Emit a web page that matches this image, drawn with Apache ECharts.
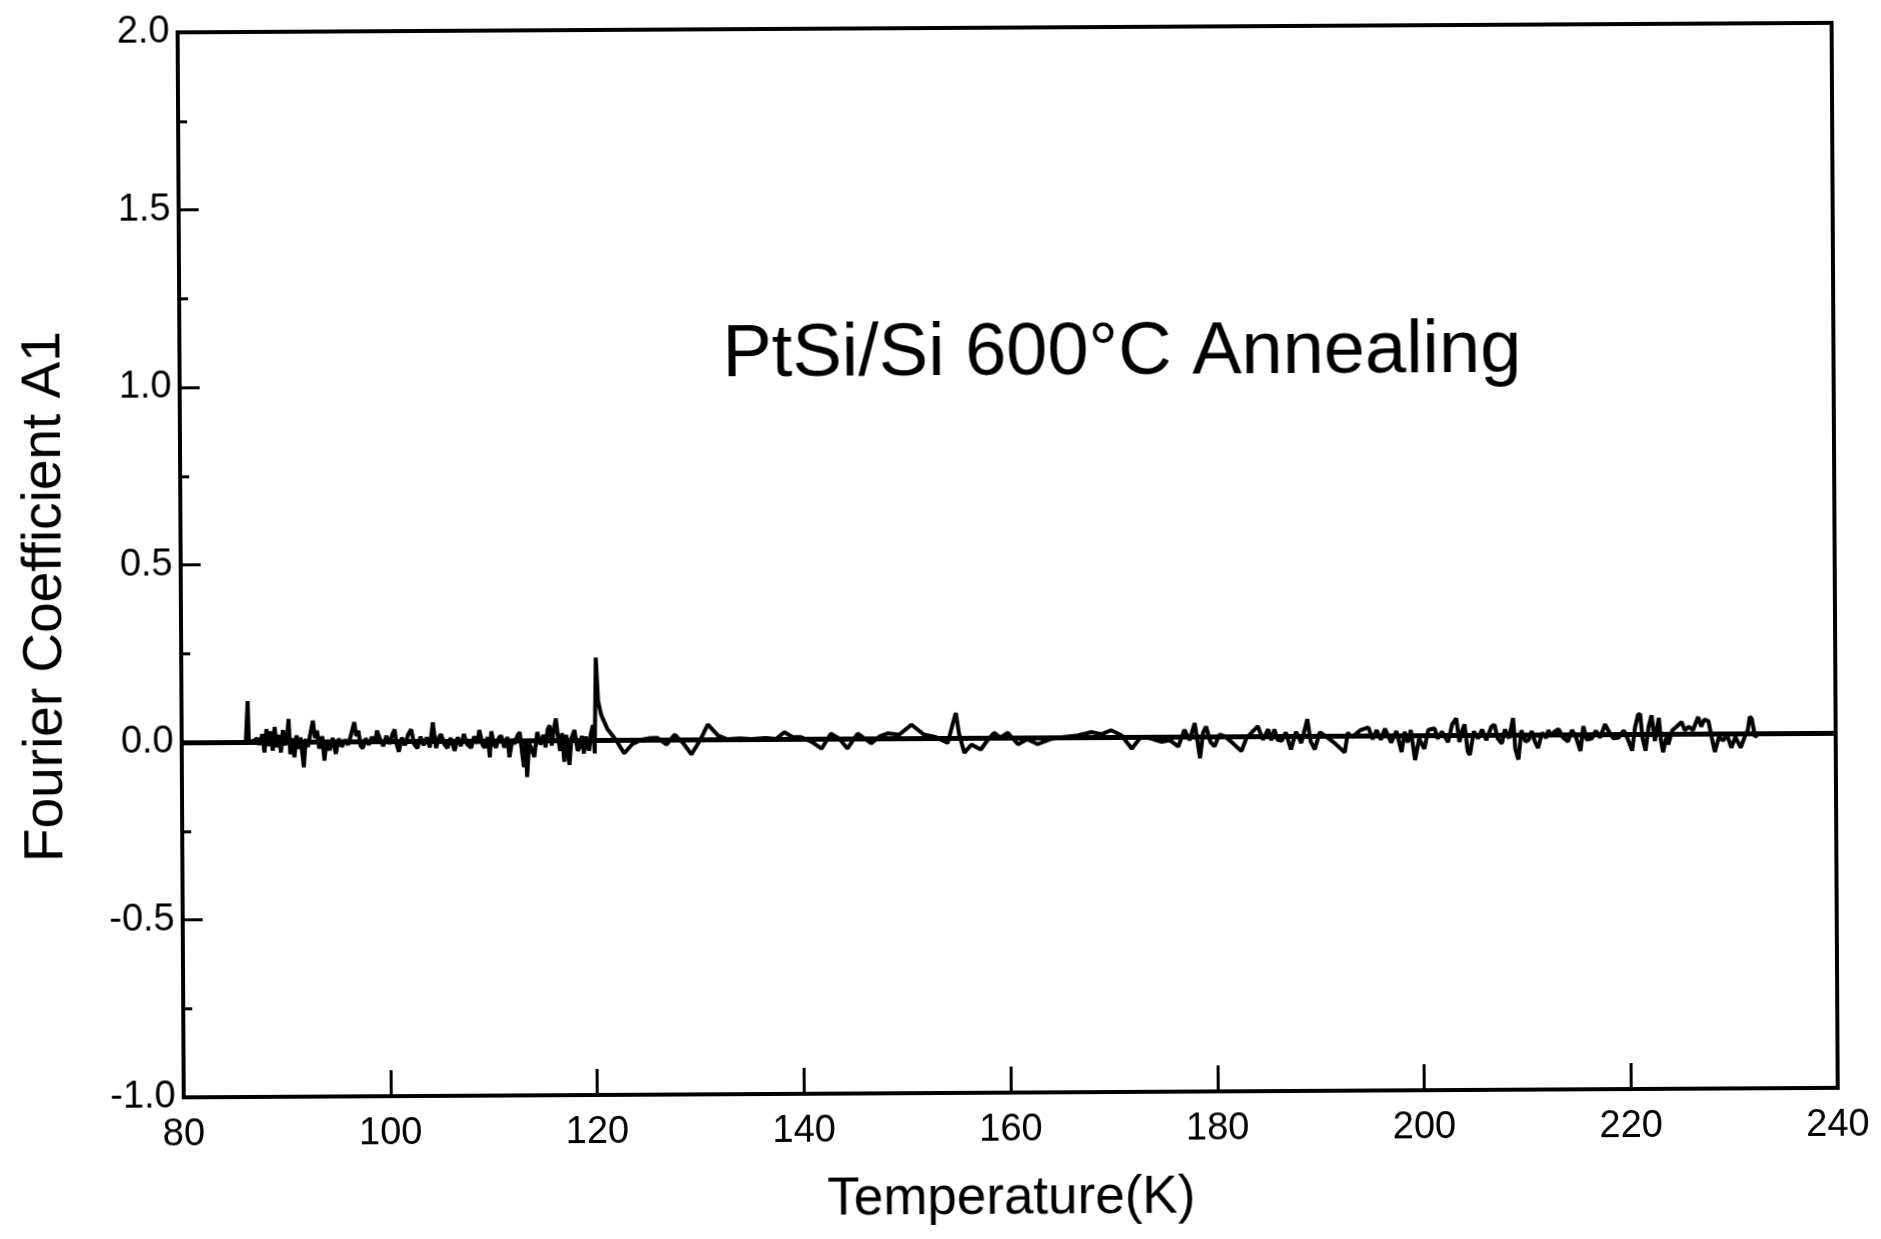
<!DOCTYPE html>
<html>
<head>
<meta charset="utf-8">
<script src="https://cdn.jsdelivr.net/npm/echarts@6/dist/echarts.min.js"></script>
<style>
html,body{margin:0;padding:0;background:#fff;overflow:hidden;}
#chart{width:1881px;height:1239px;transform:rotate(-0.33deg);transform-origin:50% 50%;}
</style>
</head>
<body>
<div id="chart"></div>
<script>
const chartTitle = 'PtSi/Si 600°C Annealing';
const xAxisName = 'Temperature(K)';
const yAxisName = 'Fourier Coefficient A1';

const temperature = [
  86.2, 86.4, 86.5, 87.0, 87.3, 87.5, 87.8, 88.0, 88.2, 88.4,
  88.6, 88.8, 89.0, 89.2, 89.4, 89.6, 89.8, 90.0, 90.2, 90.35,
  90.5, 90.7, 90.9, 91.1, 91.3, 91.5, 91.8, 92.0, 92.2, 92.5,
  92.7, 92.9, 93.1, 93.3, 93.6, 93.8, 94.0, 94.3, 94.6, 94.9,
  95.2, 95.5, 95.8, 96.1, 96.4, 96.7, 96.9, 97.1, 97.3, 97.5,
  97.8, 98.1, 98.4, 98.7, 98.9, 99.2, 99.5, 99.8, 100.1, 100.4,
  100.6, 100.8, 101.0, 101.3, 101.6, 101.9, 102.2, 102.5, 102.8, 103.1,
  103.4, 103.7, 104.0, 104.3, 104.6, 104.9, 105.1, 105.4, 105.7, 106.0,
  106.4, 106.7, 107.0, 107.3, 107.6, 108.0, 108.3, 108.6, 108.8, 109.1,
  109.3, 109.6, 109.8, 109.95, 110.2, 110.4, 110.7, 110.9, 111.2, 111.5,
  111.7, 112.0, 112.2, 112.5, 112.7, 112.9, 113.1, 113.25, 113.4, 113.6,
  113.8, 114.1, 114.4, 114.7, 115.0, 115.2, 115.4, 115.6, 115.8, 116.0,
  116.2, 116.4, 116.6, 116.8, 117.0, 117.2, 117.5, 117.7, 118.0, 118.3,
  118.5, 118.7, 118.9, 119.1, 119.4, 119.6, 119.8, 119.95, 120.1, 120.3,
  120.6, 121.2, 122.0, 122.8, 123.6, 124.5, 125.3, 126.0, 126.9, 127.7,
  128.5, 129.3, 130.1, 130.9, 131.9, 132.8, 134.0, 135.1, 136.5, 137.5,
  138.3, 139.1, 139.9, 140.9, 141.9, 142.8, 143.6, 144.4, 145.4, 146.7,
  147.5, 148.3, 149.4, 150.6, 151.8, 153.0, 154.1, 154.6, 154.9, 155.2,
  155.7, 156.4, 157.3, 158.0, 158.6, 159.2, 159.9, 160.9, 161.8, 162.8,
  164.0, 165.1, 166.5, 168.0, 169.0, 169.9, 170.9, 171.9, 172.8, 173.8,
  174.8, 175.6, 176.4, 177.0, 177.5, 178.0, 178.5, 178.8, 179.1, 179.5,
  179.9, 180.4, 180.9, 181.7, 182.5, 183.0, 183.5, 184.1, 184.6, 185.1,
  185.4, 185.7, 186.0, 186.4, 186.8, 187.3, 187.8, 188.3, 188.9, 189.2,
  189.6, 190.1, 190.6, 191.5, 192.5, 192.8, 193.2, 194.0, 194.8, 195.2,
  195.6, 196.0, 196.4, 197.0, 197.5, 198.0, 198.3, 198.6, 198.9, 199.3,
  199.7, 200.2, 200.6, 201.2, 201.5, 201.9, 202.5, 202.9, 203.3, 203.6,
  203.9, 204.1, 204.4, 204.6, 205.0, 205.4, 205.8, 206.2, 206.7, 207.0,
  207.3, 207.7, 208.0, 208.4, 208.8, 209.0, 209.3, 209.6, 210.0, 210.3,
  210.6, 210.9, 211.2, 211.6, 212.0, 212.2, 212.5, 212.8, 213.2, 213.6,
  214.1, 214.5, 214.9, 215.3, 215.6, 215.9, 216.4, 216.8, 217.2, 217.7,
  218.1, 218.5, 219.0, 219.5, 219.9, 220.3, 220.6, 220.9, 221.1, 221.3,
  221.6, 221.9, 222.2, 222.5, 222.9, 223.1, 223.3, 223.6, 223.8, 224.2,
  224.6, 225.1, 225.4, 225.8, 226.2, 226.7, 227.0, 227.3, 227.7, 228.0,
  228.3, 228.7, 229.1, 229.5, 229.9, 230.3, 230.8, 231.2, 231.5, 231.7,
  231.9, 232.2, 232.6
];

const coefficientA1 = [
  0.000, 0.115, 0.000, 0.004, 0.010, -0.008, 0.022, -0.030, 0.036, -0.012,
  0.030, -0.025, 0.042, -0.015, 0.020, -0.030, 0.033, -0.010, 0.015, 0.064,
  -0.035, 0.010, -0.044, 0.018, -0.020, 0.012, -0.072, 0.008, -0.015, 0.030,
  0.059, 0.010, 0.031, -0.020, 0.015, -0.054, 0.005, -0.025, 0.010, -0.035,
  0.008, -0.015, 0.005, -0.010, 0.020, 0.054, 0.015, 0.030, -0.012, -0.020,
  0.008, -0.010, 0.012, -0.006, 0.030, 0.005, -0.014, 0.015, -0.008, 0.020,
  0.033, -0.010, -0.030, 0.010, -0.012, 0.018, 0.033, -0.010, -0.020, 0.012,
  -0.012, 0.010, -0.018, 0.052, -0.020, 0.010, 0.019, -0.010, -0.020, 0.008,
  -0.028, 0.010, -0.015, 0.019, -0.010, -0.020, 0.012, -0.008, 0.030, -0.012,
  -0.020, 0.010, -0.047, 0.026, -0.010, -0.020, 0.008, 0.014, -0.020, 0.010,
  -0.047, 0.005, -0.010, 0.015, 0.023, -0.030, -0.075, 0.005, -0.103, -0.010,
  -0.020, -0.047, 0.023, -0.012, 0.015, -0.020, 0.030, 0.042, -0.015, 0.030,
  0.061, 0.010, -0.030, 0.020, -0.061, 0.015, -0.070, 0.005, 0.028, -0.030,
  -0.020, 0.012, -0.038, 0.010, -0.030, 0.020, 0.042, -0.038, 0.232, 0.110,
  0.070, 0.030, 0.000, -0.038, -0.012, 0.000, 0.004, 0.005, -0.014, 0.014,
  -0.010, -0.042, -0.005, 0.042, 0.010, 0.000, 0.002, 0.000, 0.003, 0.000,
  0.019, 0.005, 0.005, -0.008, -0.028, 0.014, 0.000, -0.028, 0.014, -0.014,
  0.005, 0.014, 0.010, 0.038, 0.010, 0.002, -0.014, 0.040, 0.070, 0.012,
  -0.042, -0.019, -0.033, -0.005, 0.014, 0.000, 0.014, -0.019, -0.005, -0.019,
  -0.005, 0.000, 0.004, 0.014, 0.008, 0.019, 0.005, -0.033, 0.000, -0.005,
  -0.014, -0.010, -0.028, 0.019, -0.010, 0.038, -0.061, 0.010, 0.028, -0.015,
  -0.028, 0.005, 0.000, -0.020, -0.042, -0.005, 0.010, 0.028, -0.010, 0.019,
  -0.012, 0.019, -0.010, -0.014, 0.010, -0.038, 0.012, -0.020, 0.047, -0.015,
  -0.038, 0.010, 0.000, -0.020, -0.047, 0.008, -0.005, 0.015, 0.023, -0.010,
  0.015, -0.012, 0.019, -0.020, 0.012, -0.047, 0.010, -0.020, 0.015, -0.070,
  -0.010, -0.038, 0.015, 0.019, -0.010, 0.010, -0.020, 0.030, 0.047, -0.020,
  0.015, 0.030, -0.047, -0.056, 0.010, -0.010, 0.015, -0.015, 0.023, 0.028,
  -0.010, -0.025, 0.015, -0.010, 0.047, -0.040, -0.070, 0.012, -0.020, -0.015,
  0.010, -0.020, -0.038, 0.005, -0.010, 0.012, -0.005, 0.008, 0.015, -0.008,
  -0.020, 0.012, -0.010, -0.047, 0.023, -0.015, -0.012, 0.010, -0.010, 0.028,
  0.005, -0.012, -0.010, 0.010, -0.015, -0.047, 0.020, 0.055, 0.056, -0.010,
  -0.047, 0.020, 0.052, -0.020, 0.045, -0.020, -0.052, -0.010, -0.030, 0.010,
  0.020, 0.033, 0.010, 0.020, 0.010, 0.047, 0.020, 0.040, 0.035, -0.010,
  -0.052, -0.010, -0.020, -0.005, -0.040, -0.010, -0.040, -0.010, 0.010, 0.047,
  0.040, -0.010, 0.000
];

const xRange = [80, 240];
const xStep = 20;
const yRange = [-1.0, 2.0];
const yStep = 0.5;
const baselineValue = 0;

const FONT = "'Liberation Sans', Arial, sans-serif";

const chart = echarts.init(document.getElementById('chart'), null, {renderer: 'canvas'});
chart.setOption({
  animation: false,
  backgroundColor: '#fff',
  title: {
    text: chartTitle,
    left: 724,
    top: 318,
    padding: 0,
    textStyle: {fontFamily: FONT, fontSize: 74, fontWeight: 'normal', color: '#000'}
  },
  grid: {
    left: 181, right: 46, top: 28, bottom: 146,
    show: true, borderColor: '#000', borderWidth: 4, backgroundColor: 'transparent'
  },
  xAxis: {
    type: 'value',
    min: xRange[0], max: xRange[1], interval: xStep,
    name: xAxisName,
    nameLocation: 'middle',
    nameGap: 80,
    nameTextStyle: {fontFamily: FONT, fontSize: 53, color: '#000'},
    axisLine: {show: true, onZero: false, lineStyle: {color: '#000', width: 4}},
    axisTick: {show: true, inside: true, length: 26, lineStyle: {color: '#000', width: 3}},
    axisLabel: {color: '#000', fontFamily: FONT, fontSize: 38, margin: 19, showMinLabel: true, showMaxLabel: true},
    splitLine: {show: false}
  },
  yAxis: {
    type: 'value',
    min: yRange[0], max: yRange[1], interval: yStep,
    name: yAxisName,
    nameLocation: 'middle',
    nameRotate: 90,
    nameGap: 108,
    nameTextStyle: {fontFamily: FONT, fontSize: 55, color: '#000', padding: [0, 62, 0, 0]},
    axisLine: {show: true, lineStyle: {color: '#000', width: 4}},
    axisTick: {show: true, inside: true, length: 20, lineStyle: {color: '#000', width: 3}},
    minorTick: {show: true, splitNumber: 2, length: 9, lineStyle: {color: '#000', width: 3}},
    axisLabel: {color: '#000', fontFamily: FONT, fontSize: 38, margin: 8,
      formatter: v => v.toFixed(1)},
    splitLine: {show: false},
    minorSplitLine: {show: false}
  },
  series: [{
    type: 'line',
    data: temperature.map((t, i) => [t, coefficientA1[i]]),
    showSymbol: false,
    symbol: 'none',
    lineStyle: {color: '#000', width: 4},
    z: 3,
    markLine: {
      silent: true,
      symbol: 'none',
      label: {show: false},
      lineStyle: {color: '#000', width: 5, type: 'solid'},
      data: [{yAxis: baselineValue}]
    }
  }]
});
</script>
</body>
</html>
